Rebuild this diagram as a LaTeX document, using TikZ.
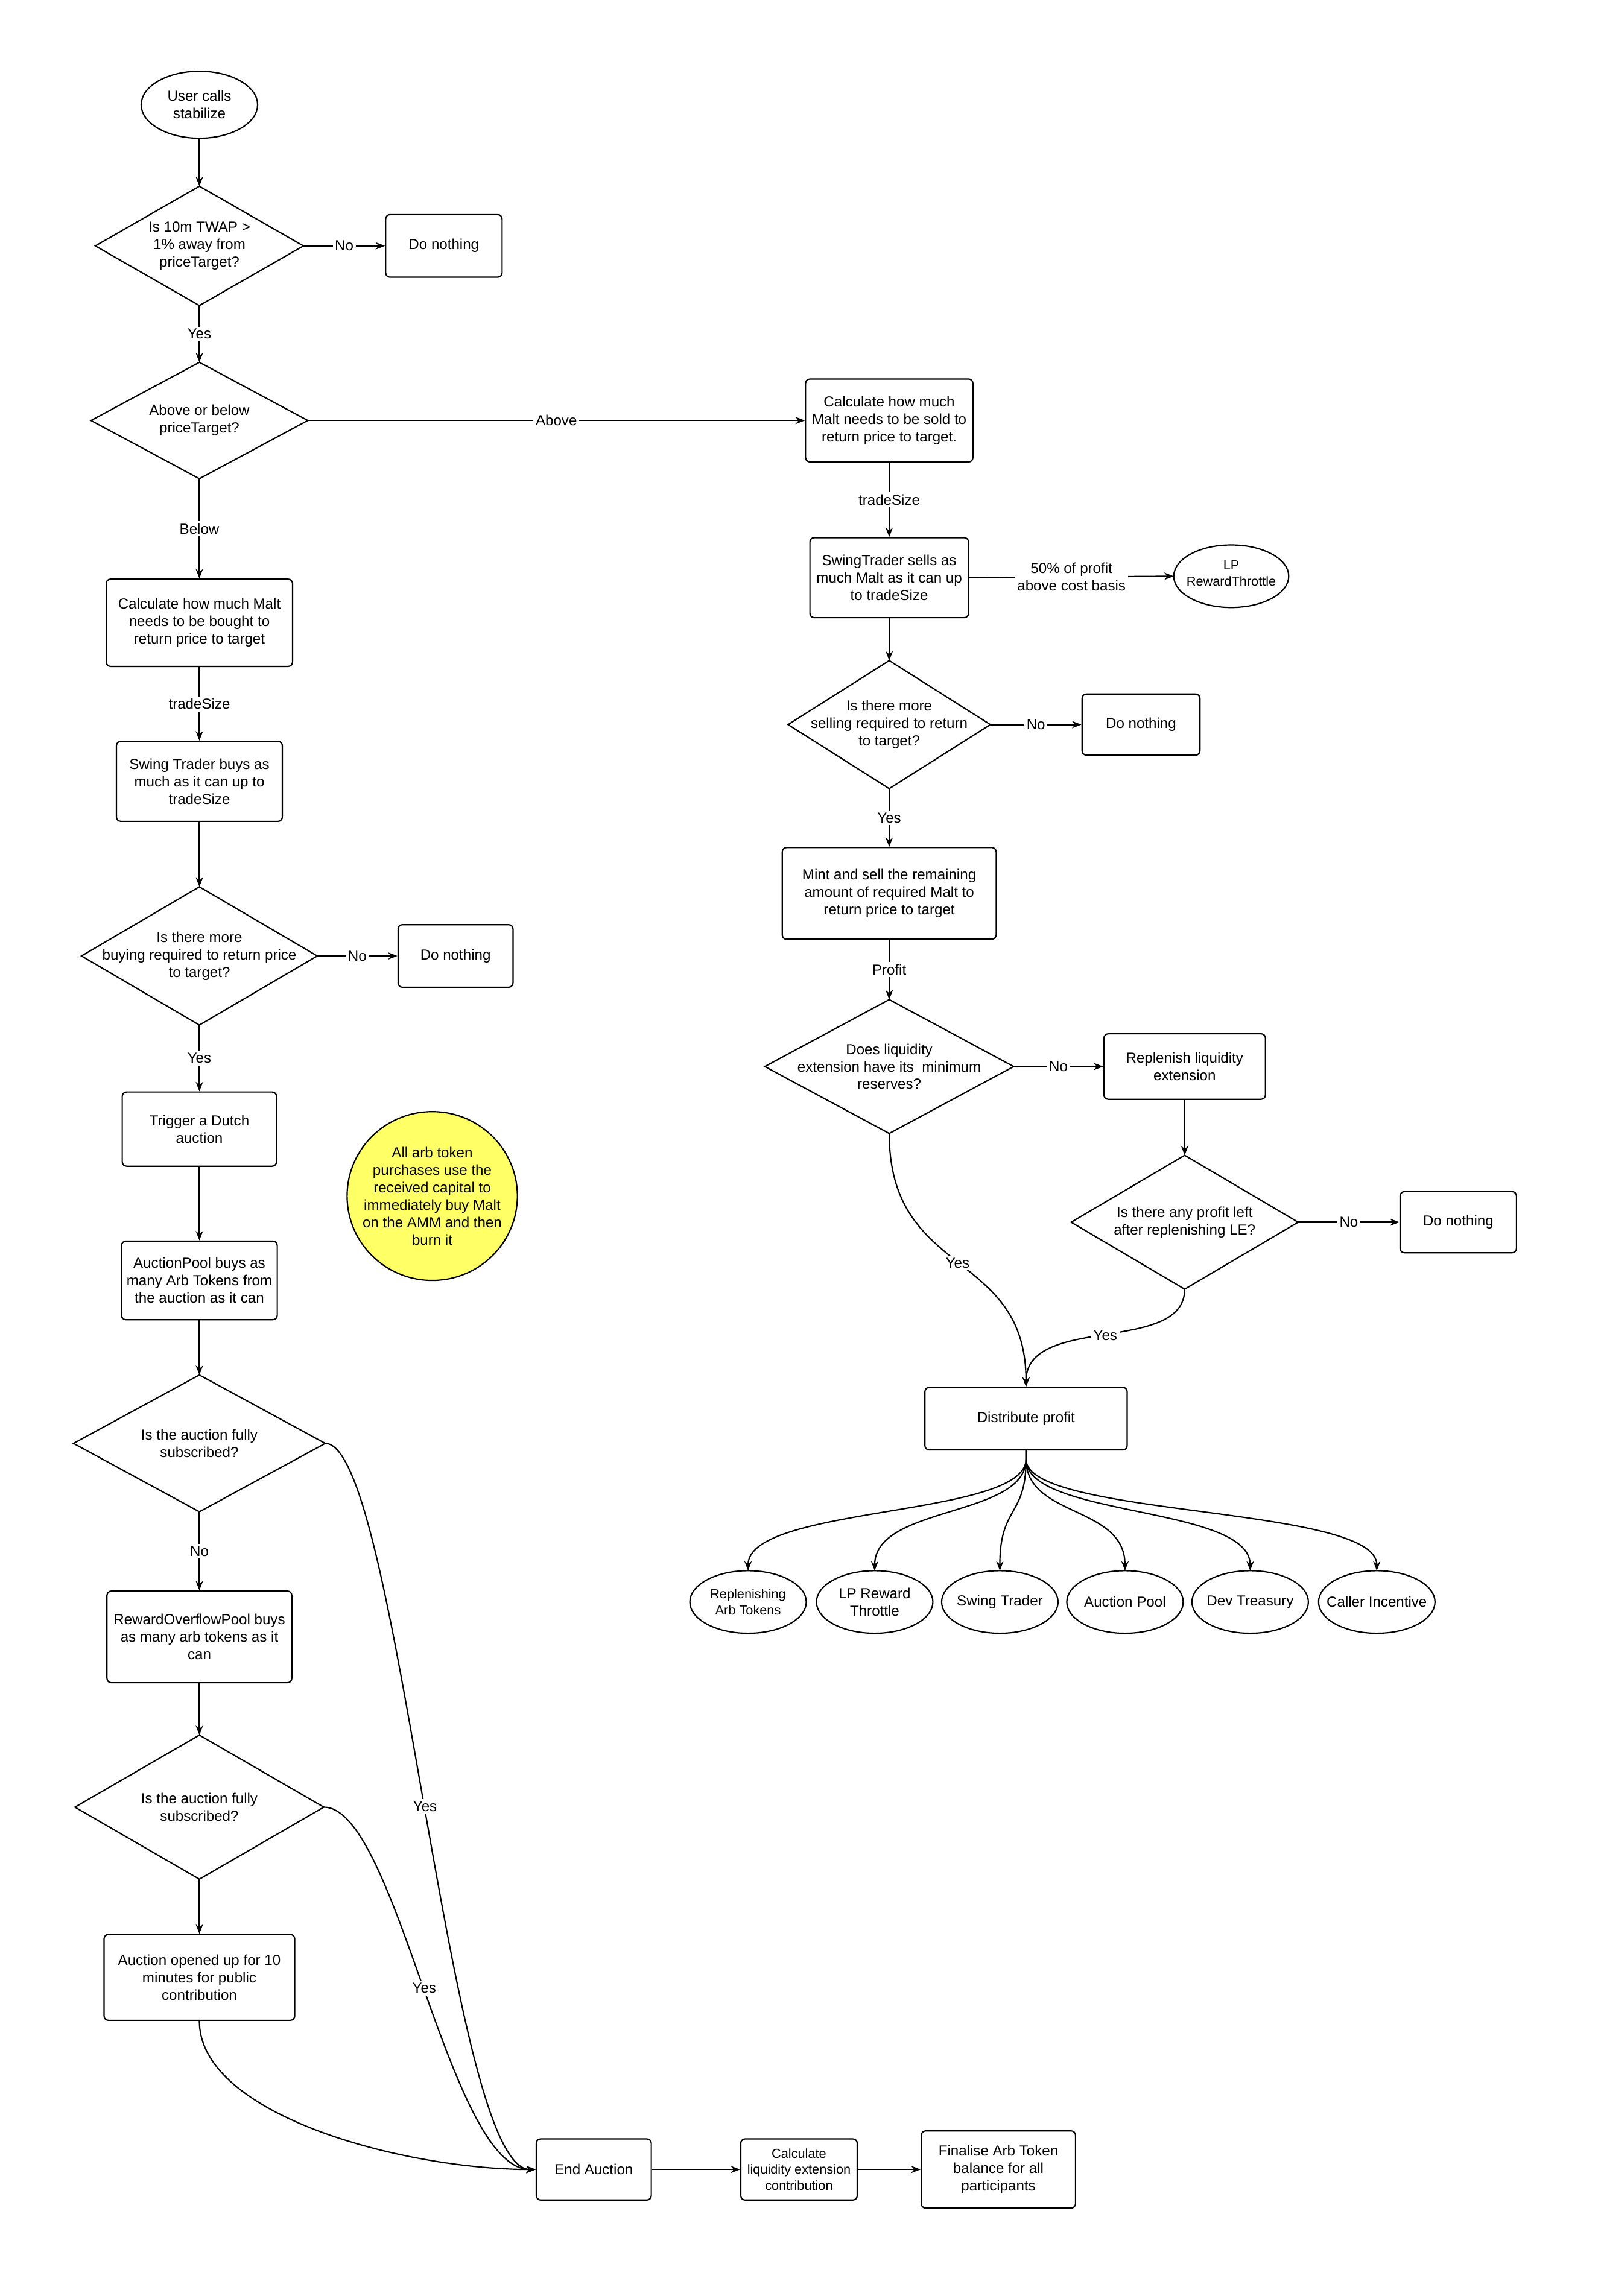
\documentclass[tikz,border=0pt]{standalone}
\usepackage{fontspec}
\setmainfont{Liberation Sans}
\usetikzlibrary{shapes.geometric,arrows.meta}
\tikzset{
  txt/.style={font=\fontsize{10}{12}\selectfont, align=center},
  smalltxt/.style={font=\fontsize{9}{11}\selectfont, align=center},
  box/.style={draw, line width=0.9pt, rectangle, rounded corners=3pt, inner sep=2pt, txt},
  dia/.style={draw, line width=0.9pt, diamond, inner sep=0pt, outer sep=0pt},
  ell/.style={draw, line width=0.9pt, ellipse, inner sep=0pt, outer sep=0pt},
  arr/.style={-{Stealth[length=6.5pt,width=5pt]}, line width=0.9pt},
  lab/.style={fill=white, inner sep=1.5pt, txt},
}
\begin{document}
\begin{tikzpicture}[x=1pt,y=-1pt]
\fill[white] (0,0) rectangle (1100,1578);
% ---------------- left column ----------------
\node[ell, minimum width=80pt, minimum height=46pt] (start) at (137,72) {};
\node[txt] (startt) at (start) {User calls\\stabilize};
\node[dia, minimum width=143pt, minimum height=82pt] (d1) at (137,169) {};
\node[txt] (d1t) at (d1) {Is 10m TWAP >\\1\% away from\\priceTarget?};
\node[box, minimum width=80pt, minimum height=43pt] (dn1) at (305,169) {Do nothing};
\node[dia, minimum width=149pt, minimum height=80pt] (d2) at (137,289) {};
\node[txt] (d2t) at (d2) {Above or below\\priceTarget?};
\node[box, minimum width=128pt, minimum height=60pt] (bl1) at (137,428) {Calculate how much Malt\\needs to be bought to\\return price to target};
\node[box, minimum width=114pt, minimum height=55pt] (bl2) at (137,537) {Swing Trader buys as\\much as it can up to\\tradeSize};
\node[dia, minimum width=162pt, minimum height=95pt] (d3) at (137,657) {};
\node[txt] (d3t) at (d3) {Is there more\\buying required to return price\\to target?};
\node[box, minimum width=79pt, minimum height=43pt] (dn2) at (313,657) {Do nothing};
\node[box, minimum width=106pt, minimum height=51pt] (bl3) at (137,776) {Trigger a Dutch\\auction};
\node[ell, fill={rgb,255:red,255;green,255;blue,102}, minimum width=117pt, minimum height=116pt] (note) at (297,822) {};
\node[txt] (notet) at (note) {All arb token\\purchases use the\\received capital to\\immediately buy Malt\\on the AMM and then\\burn it};
\node[box, minimum width=107pt, minimum height=54pt] (bl4) at (137,880) {AuctionPool buys as\\many Arb Tokens from\\the auction as it can};
\node[dia, minimum width=173pt, minimum height=94pt] (d4) at (137,992) {};
\node[txt] (d4t) at (d4) {Is the auction fully\\subscribed?};
\node[box, minimum width=127pt, minimum height=63pt] (bl5) at (137,1125) {RewardOverflowPool buys\\as many arb tokens as it\\can};
\node[dia, minimum width=171pt, minimum height=99pt] (d5) at (137,1242) {};
\node[txt] (d5t) at (d5) {Is the auction fully\\subscribed?};
\node[box, minimum width=131pt, minimum height=59pt] (bl6) at (137,1359) {Auction opened up for 10\\minutes for public\\contribution};
\node[box, minimum width=79pt, minimum height=42pt] (endA) at (408,1491) {End Auction};
\node[box, smalltxt, minimum width=80pt, minimum height=42pt] (calcLE) at (549,1491) {Calculate\\liquidity extension\\contribution};
\node[box, minimum width=106pt, minimum height=53pt] (fin) at (686,1491) {Finalise Arb Token\\balance for all\\participants};
% ---------------- right column ----------------
\node[box, minimum width=115pt, minimum height=57pt] (r1) at (611,289) {Calculate how much\\Malt needs to be sold to\\return price to target.};
\node[box, minimum width=109pt, minimum height=55pt] (r2) at (611,397) {SwingTrader sells as\\much Malt as it can up\\to tradeSize};
\node[ell, minimum width=79pt, minimum height=43pt] (lp) at (846,396) {};
\node[smalltxt] (lpt) at (846,394) {LP\\RewardThrottle};
\node[dia, minimum width=139pt, minimum height=88pt] (r3) at (611,498) {};
\node[txt] (r3t) at (r3) {Is there more\\selling required to return\\to target?};
\node[box, minimum width=81pt, minimum height=42pt] (dn3) at (784,498) {Do nothing};
\node[box, minimum width=147pt, minimum height=63pt] (r4) at (611,614) {Mint and sell the remaining\\amount of required Malt to\\return price to target};
\node[dia, minimum width=171pt, minimum height=92pt] (r5) at (611,733) {};
\node[txt] (r5t) at (r5) {Does liquidity\\extension have its\ \ minimum\\reserves?};
\node[box, minimum width=111pt, minimum height=45pt] (rep) at (814,733) {Replenish liquidity\\extension};
\node[dia, minimum width=156pt, minimum height=92pt] (r6) at (814,840) {};
\node[txt] (r6t) at (r6) {Is there any profit left\\after replenishing LE?};
\node[box, minimum width=80pt, minimum height=42pt] (dn4) at (1002,840) {Do nothing};
\node[box, minimum width=139pt, minimum height=43pt] (dist) at (705,975) {Distribute profit};
\foreach \n/\x in {e1/514,e2/601,e3/687,e4/773,e5/859,e6/946}
  \node[ell, minimum width=80pt, minimum height=43pt] (\n) at (\x,1101) {};
\node[smalltxt] (e1t) at (e1) {Replenishing\\Arb Tokens};
\node[txt] (e2t) at (e2) {LP Reward\\Throttle};
\node[txt] (e3t) at (e3) {Swing Trader};
\node[txt] (e4t) at (e4) {Auction Pool};
\node[txt] (e5t) at (e5) {Dev Treasury};
\node[txt] (e6t) at (e6) {Caller Incentive};
% ---------------- connectors ----------------
\draw[arr] (start.south) -- (d1.north);
\draw[arr] (d1.east) -- node[lab] {No} (dn1.west);
\draw[arr] (d1.south) -- node[lab] {Yes} (d2.north);
\draw[arr] (d2.east) -- node[lab] {Above} (r1.west);
\draw[arr] (d2.south) -- node[lab] {Below} (bl1.north);
\draw[arr] (bl1.south) -- node[lab] {tradeSize} (bl2.north);
\draw[arr] (bl2.south) -- (d3.north);
\draw[arr] (d3.east) -- node[lab] {No} (dn2.west);
\draw[arr] (d3.south) -- node[lab] {Yes} (bl3.north);
\draw[arr] (bl3.south) -- (bl4.north);
\draw[arr] (bl4.south) -- (d4.north);
\draw[arr] (d4.south) -- node[lab] {No} (bl5.north);
\draw[arr] (bl5.south) -- (d5.north);
\draw[arr] (d5.south) -- (bl6.north);
\draw[arr] (d4.east) .. controls +(50,0) and +(-60,0) .. node[lab, pos=0.5] {Yes} (endA.west);
\draw[arr] (d5.east) .. controls +(50,0) and +(-60,0) .. node[lab, pos=0.5] {Yes} (endA.west);
\draw[arr] (bl6.south) .. controls +(0,65) and +(-90,0) .. (endA.west);
\draw[arr] (endA.east) -- (calcLE.west);
\draw[arr] (calcLE.east) -- (fin.west);
\draw[arr] (r1.south) -- node[lab] {tradeSize} (r2.north);
\draw[arr] (r2.east) -- node[lab] {50\% of profit\\above cost basis} (lp.west);
\draw[arr] (r2.south) -- (r3.north);
\draw[arr] (r3.east) -- node[lab] {No} (dn3.west);
\draw[arr] (r3.south) -- node[lab] {Yes} (r4.north);
\draw[arr] (r4.south) -- node[lab] {Profit} (r5.north);
\draw[arr] (r5.east) -- node[lab] {No} (rep.west);
\draw[arr] (rep.south) -- (r6.north);
\draw[arr] (r6.east) -- node[lab] {No} (dn4.west);
\draw[arr] (r5.south) .. controls +(0,100) and +(0,-95) .. node[lab, pos=0.5] {Yes} (dist.north);
\draw[arr] (r6.south) .. controls +(0,45) and +(0,-50) .. node[lab, pos=0.5] {Yes} (dist.north);
\foreach \n in {e1,e2,e3,e4,e5,e6}
  \draw[arr] (dist.south) -- ++(0,6) .. controls +(0,40) and +(0,-45) .. (\n.north);
\end{tikzpicture}
\end{document}
